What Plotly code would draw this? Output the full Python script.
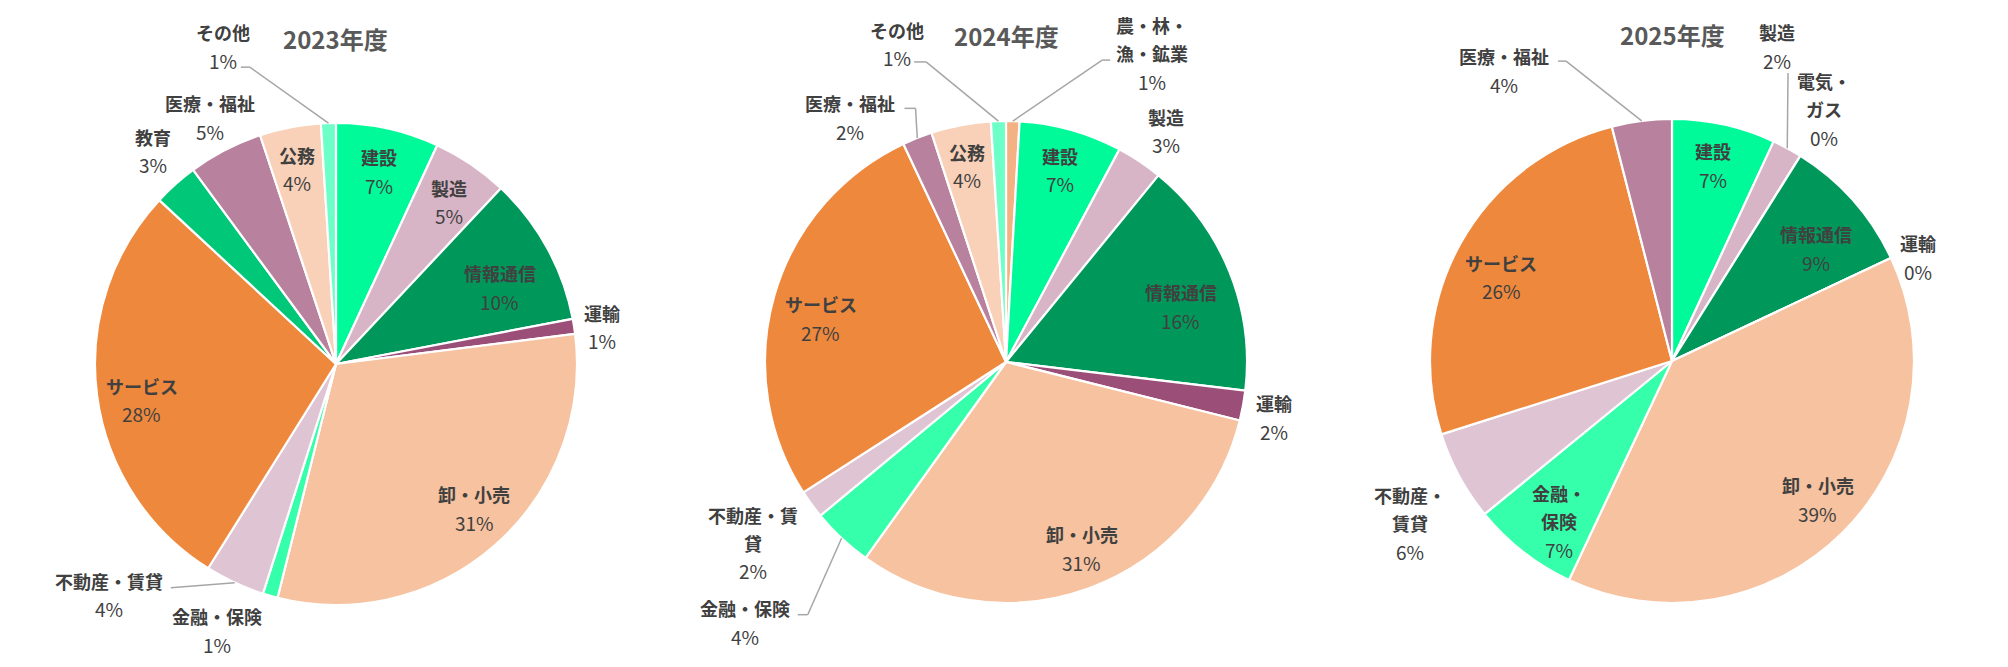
import math
import plotly.graph_objects as go

W, H = 2008, 667

# ---------------- data ----------------
years = ["2023年度", "2024年度", "2025年度"]

cats_2023 = ["建設", "製造", "情報通信", "運輸", "卸・小売", "金融・保険", "不動産・賃貸",
             "サービス", "教育", "医療・福祉", "公務", "その他"]
vals_2023 = [6.9, 5.1, 10.0, 1.0, 30.9, 1.0, 4.0, 28.0, 3.0, 5.0, 4.1, 1.0]

cats_2024 = ["農・林・漁・鉱業", "建設", "製造", "情報通信", "運輸", "卸・小売", "金融・保険",
             "不動産・賃貸", "サービス", "医療・福祉", "公務", "その他"]
vals_2024 = [0.9, 6.9, 3.1, 16.0, 2.0, 31.0, 4.1, 1.9, 27.1, 2.0, 4.0, 1.0]

cats_2025 = ["建設", "製造", "電気・ガス", "情報通信", "運輸", "卸・小売", "金融・保険",
             "不動産・賃貸", "サービス", "医療・福祉"]
vals_2025 = [6.9, 2.0, 0.0, 9.1, 0.0, 39.0, 7.1, 6.0, 25.9, 4.0]

# ---------------- styles ----------------
colors = {
    "建設": "#00FA9A", "製造": "#D8B4C7", "情報通信": "#00985A", "運輸": "#9B4F78",
    "卸・小売": "#F6C29F", "金融・保険": "#36FFAB", "不動産・賃貸": "#DFC5D3",
    "サービス": "#EE883D", "教育": "#00C878", "医療・福祉": "#B8819D", "公務": "#F8D1B8",
    "その他": "#6CFFC8", "農・林・漁・鉱業": "#F4B183", "電気・ガス": "#7FD6A8",
}

# pie centres / radii in pixels
centers = [(336, 364), (1006, 362), (1672, 361)]
radii = [241, 241, 242]
title_pos = [(335, 38), (1006, 36), (1672, 35)]

# label placement: (radius fraction, angle offset from slice mid angle in degrees)
label_pos = [
    [(0.82, 0), (0.82, 0.9), (0.75, 3.7), (1.115, 1), (0.83, -2.2), (1.21, 8.2), (1.344, 19.7),
     (0.82, -2.9), (1.166, 1.2), (1.15, 0.3), (0.826, -0.3), (1.40, -17.8)],
    [(1.418, 23.7), (0.828, 0), (1.166, 1), (0.762, 4.3), (1.135, 1.2), (0.834, -2), (1.53, 2.1),
     (1.29, 0.6), (0.79, -2.7), (1.205, -11), (0.83, -0.5), (1.395, -17.1)],
    [(0.826, -0.6), (1.372, -10), (1.216, -0.9), (0.756, 3.5), (1.104, 2.3), (0.83, -1.6),
     (0.81, -2.9), (1.273, -3.3), (0.787, -2.8), (1.388, -22.8)],
]

# leader lines: category -> offsets (from label centre) of start and optional elbow
leaders = [
    {"その他": [(18, 21), (27, 21)], "不動産・賃貸": [(62, -7)]},
    {"農・林・漁・鉱業": [(-42, 7), (-50, 7)], "その他": [(17, 18), (29, 18)],
     "医療・福祉": [(55, -9), (66, -9)], "金融・保険": [(53, -7.5), (63, -7.5)]},
    {"製造": [(11, 27)], "医療・福祉": [(54, -9), (62, -9)]},
]

wraps = [
    {},
    {"農・林・漁・鉱業": ["農・林・", "漁・鉱業"], "不動産・賃貸": ["不動産・賃", "貸"]},
    {"電気・ガス": ["電気・", "ガス"], "金融・保険": ["金融・", "保険"], "不動産・賃貸": ["不動産・", "賃貸"]},
]

FONT = "Noto Sans CJK JP, Noto Sans, sans-serif"
TEXT_COLOR = "#404040"
NAME_SIZE = 18
PCT_SIZE = 19
LINE_GAP = 28
LEADER_COLOR = "#A6A6A6"

datasets = [(cats_2023, vals_2023), (cats_2024, vals_2024), (cats_2025, vals_2025)]


def px_to_paper(x, y):
    return x / W, 1 - y / H


fig = go.Figure()
annotations = []
shapes = []

for i, (cats, vals) in enumerate(datasets):
    cx, cy = centers[i]
    R = radii[i]
    x0, y1 = px_to_paper(cx - R, cy - R)
    x1, y0 = px_to_paper(cx + R, cy + R)
    fig.add_trace(go.Pie(
        labels=cats, values=vals, sort=False, direction="clockwise", rotation=0,
        marker=dict(colors=[colors[c] for c in cats], line=dict(color="white", width=2.2)),
        textinfo="none", hoverinfo="label+percent", showlegend=False,
        domain=dict(x=[x0, x1], y=[y0, y1]),
    ))

    # title
    tx, ty = px_to_paper(*title_pos[i])
    annotations.append(dict(x=tx, y=ty, xref="paper", yref="paper", text=f"<b>{years[i]}</b>",
                            showarrow=False, xanchor="center", yanchor="middle",
                            font=dict(family=FONT, size=24, color="#595959")))

    total = sum(vals)
    cum = 0.0
    for j, (c, v) in enumerate(zip(cats, vals)):
        mid = (cum + v / 2) / total * 360.0
        cum += v
        rf, da = label_pos[i][j]
        ang = math.radians(mid + da)
        lx = cx + rf * R * math.sin(ang)
        ly = cy - rf * R * math.cos(ang)
        lines = wraps[i].get(c, [c])
        all_lines = [(t, True) for t in lines] + [(f"{round(v / total * 100)}%", False)]
        n = len(all_lines)
        for k, (t, bold) in enumerate(all_lines):
            yy = ly + (k - (n - 1) / 2) * LINE_GAP
            px, py = px_to_paper(lx, yy)
            annotations.append(dict(
                x=px, y=py, xref="paper", yref="paper",
                text=f"<b>{t}</b>" if bold else t,
                showarrow=False, xanchor="center", yanchor="middle",
                font=dict(family=FONT, size=NAME_SIZE if bold else PCT_SIZE, color=TEXT_COLOR)))
        if c in leaders[i]:
            pts = [(lx + dx, ly + dy) for dx, dy in leaders[i][c]]
            ma = math.radians(mid)
            pts.append((cx + R * math.sin(ma), cy - R * math.cos(ma)))
            for (ax, ay), (bx, by) in zip(pts[:-1], pts[1:]):
                pa, qa = px_to_paper(ax, ay)
                pb, qb = px_to_paper(bx, by)
                shapes.append(dict(type="line", xref="paper", yref="paper",
                                   x0=pa, y0=qa, x1=pb, y1=qb,
                                   line=dict(color=LEADER_COLOR, width=1.5)))

fig.update_layout(
    width=W, height=H, margin=dict(l=0, r=0, t=0, b=0),
    paper_bgcolor="white", plot_bgcolor="white",
    annotations=annotations, shapes=shapes,
)

fig.write_html("out.html", config={"displayModeBar": False},
               post_script="document.body.style.margin='0';document.body.style.overflow='hidden';")
